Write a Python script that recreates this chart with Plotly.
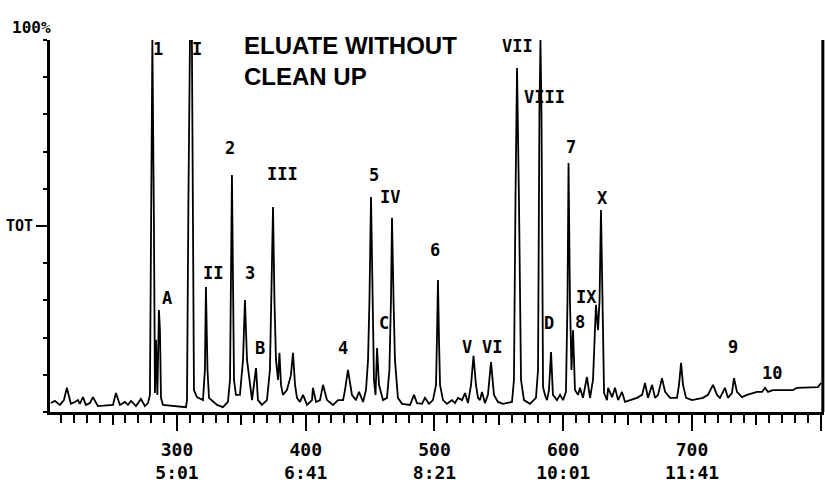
import plotly.graph_objects as go

# Total ion current trace: scan number vs. relative intensity (% of full scale)
scan = [
    202.1, 205.2, 209.1, 212.2, 214.5, 217.6, 220.8, 223.1, 224.6, 227.0,
    229.3, 232.4, 234.7, 238.6, 250.3, 252.6, 255.7, 259.6, 261.9, 264.3,
    268.2, 272.0, 275.1, 277.5, 279.0, 279.8, 280.9, 282.1, 282.9, 283.7,
    284.8, 286.0, 286.8, 287.6, 289.1, 307.0, 307.8, 308.9, 310.1, 311.6,
    312.4, 313.2, 315.5, 320.2, 321.7, 322.5, 323.7, 324.9, 331.1, 335.7,
    339.6, 341.2, 342.7, 344.3, 345.8, 348.9, 351.3, 352.8, 354.4, 356.7,
    358.3, 361.4, 362.9, 366.0, 369.9, 372.2, 373.4, 374.6, 375.7, 376.9,
    378.5, 379.6, 380.8, 382.3, 385.4, 388.5, 390.1, 391.7, 393.2, 395.5,
    397.9, 401.0, 404.9, 405.6, 408.0, 411.1, 413.4, 416.5, 421.2, 425.1,
    429.0, 430.5, 432.8, 435.9, 439.0, 441.4, 444.5, 446.8, 448.4, 449.5,
    450.7, 451.9, 453.0, 454.2, 455.4, 456.9, 460.0, 463.1, 465.0, 466.2,
    467.0, 468.2, 469.3, 471.6, 474.8, 481.0, 484.1, 486.4, 490.3, 492.6,
    495.7, 498.8, 501.2, 501.9, 502.7, 503.5, 504.3, 506.6, 509.7, 513.6,
    515.9, 518.3, 521.4, 523.7, 526.0, 528.4, 530.3, 532.2, 533.8, 535.3,
    536.9, 539.2, 541.5, 543.9, 546.2, 549.3, 553.2, 560.2, 561.7, 562.9,
    564.1, 565.6, 567.2, 569.5, 574.2, 578.8, 580.4, 581.5, 582.3, 583.1,
    584.3, 585.8, 587.4, 588.9, 590.5, 592.0, 595.1, 597.5, 599.8, 602.1,
    603.3, 604.1, 605.2, 606.4, 607.6, 609.1, 611.5, 613.0, 615.3, 618.4,
    620.8, 623.1, 625.4, 627.0, 628.2, 629.3, 630.5, 631.7, 634.0, 634.8,
    637.9, 640.2, 642.6, 645.6, 648.0, 651.8, 657.3, 661.2, 663.5, 665.8,
    669.0, 671.3, 673.6, 676.7, 679.1, 683.0, 688.3, 689.9, 691.5, 693.0,
    695.4, 700.0, 708.5, 712.4, 716.3, 719.4, 721.7, 725.6, 727.9, 731.0,
    732.6, 734.9, 738.8, 742.7, 746.6, 750.5, 754.4, 756.7, 759.0, 762.9,
    778.4, 781.5, 797.8, 800.2,
]
tic = [
    2.4, 3.0, 1.9, 3.2, 6.5, 2.2, 2.7, 3.2, 2.2, 4.0,
    1.9, 2.4, 4.0, 1.6, 1.9, 5.1, 1.9, 2.7, 1.9, 3.0,
    1.6, 3.5, 1.6, 2.4, 4.6, 51.6, 100.0, 51.6, 5.1, 19.4,
    4.6, 27.4, 22.0, 3.8, 1.9, 1.3, 3.2, 57.0, 100.0, 100.0,
    57.0, 5.9, 4.0, 3.2, 11.3, 33.6, 11.3, 3.8, 1.9, 1.3,
    2.7, 8.6, 63.7, 8.6, 4.6, 4.6, 14.0, 30.1, 14.0, 7.3,
    3.2, 11.8, 3.2, 1.9, 3.2, 11.3, 30.1, 55.1, 30.1, 14.0,
    8.6, 15.9, 7.3, 4.6, 5.9, 9.9, 15.9, 7.3, 3.8, 2.7,
    4.6, 1.9, 3.2, 6.5, 2.7, 3.2, 7.3, 3.2, 1.9, 3.2,
    3.2, 5.9, 11.3, 4.6, 3.2, 5.4, 2.7, 5.9, 14.0, 30.1,
    57.8, 30.1, 8.6, 4.6, 17.2, 7.3, 3.2, 3.8, 11.3, 30.1,
    52.2, 30.1, 14.0, 3.8, 2.2, 1.9, 4.6, 2.4, 2.2, 3.8,
    2.2, 3.2, 7.3, 19.4, 35.5, 19.4, 7.3, 3.2, 2.2, 3.2,
    2.4, 3.8, 3.2, 5.1, 2.4, 7.3, 15.1, 7.3, 3.8, 3.2,
    5.4, 2.4, 4.6, 13.4, 4.6, 2.7, 2.2, 2.7, 8.6, 57.0,
    92.5, 57.0, 8.6, 3.2, 2.2, 3.8, 11.3, 80.4, 100.0, 80.4,
    6.7, 4.6, 3.2, 5.9, 16.1, 4.6, 3.2, 4.6, 3.2, 5.4,
    30.1, 66.9, 30.1, 11.3, 22.0, 5.9, 4.6, 6.5, 3.8, 9.4,
    3.8, 8.6, 28.8, 22.0, 30.1, 54.3, 30.1, 5.1, 3.2, 6.5,
    4.0, 6.5, 3.2, 5.4, 2.7, 3.2, 3.8, 4.6, 7.8, 3.8,
    7.3, 3.8, 4.6, 9.1, 5.4, 3.8, 3.8, 7.3, 13.2, 7.3,
    3.8, 3.2, 3.8, 4.6, 7.3, 4.6, 3.8, 6.5, 3.8, 5.1,
    9.1, 5.4, 4.0, 4.6, 5.1, 5.4, 5.4, 6.5, 5.4, 5.9,
    5.9, 6.5, 6.7, 7.8,
]

# Peak names and where each name is written (scan, % level)
peak_names = ["1", "I", "A", "II", "2", "3", "B", "III", "4", "5", "C", "IV",
              "6", "V", "VI", "VII", "VIII", "D", "7", "8", "IX", "X", "9", "10"]
name_scan = [285.2, 315.5, 292.2, 328.0, 341.2, 356.7, 364.5, 381.6, 428.9,
             453.0, 460.8, 465.4, 500.4, 525.2, 544.7, 564.1, 585.8, 588.9,
             606.0, 613.0, 618.4, 630.1, 731.8, 762.1]
name_level = [97.6, 97.6, 30.6, 37.4, 71.0, 37.4, 17.2, 64.0, 17.2, 63.7, 23.9,
              57.8, 43.5, 17.5, 17.5, 98.4, 84.7, 23.9, 71.2, 24.2, 30.9, 57.5,
              17.5, 10.5]

# Scan-number axis labels with the matching retention time
scan_ticks = [300, 400, 500, 600, 700, 800]
time_labels = ["5:01", "6:41", "8:21", "10:01", "11:41", ""]
mid_ticks = [250, 350, 450, 550, 650, 750]

x_range = [201.4, 802.5]
mono = "DejaVu Sans Mono, Liberation Mono, monospace"

tick_text = [f"{s}<br>{t}" if t else "" for s, t in zip(scan_ticks, time_labels)]

fig = go.Figure()
fig.add_trace(go.Scatter(
    x=scan, y=tic, mode="lines",
    line=dict(color="black", width=1.8),
    hoverinfo="skip", showlegend=False,
))
# helper traces that bring the overlay axes into the layout
fig.add_trace(go.Scatter(x=[None], y=[None], xaxis="x2", yaxis="y",
                         showlegend=False, hoverinfo="skip"))
fig.add_trace(go.Scatter(x=[None], y=[None], xaxis="x", yaxis="y2",
                         showlegend=False, hoverinfo="skip"))

for name, sx, lv in zip(peak_names, name_scan, name_level):
    fig.add_annotation(x=sx, y=lv, xref="x", yref="y", text=name,
                       showarrow=False, xanchor="center", yanchor="middle",
                       font=dict(family=mono, size=17, color="black", weight="bold"))

fig.add_annotation(x=350.5, y=94.4, xref="x", yref="y",
                   text="ELUATE WITHOUT<br>CLEAN UP", showarrow=False,
                   xanchor="left", yanchor="middle", align="left",
                   font=dict(family="Liberation Sans, Arial, sans-serif", size=24,
                             color="black", weight="bold"))
fig.add_annotation(x=-0.024, y=1.0, xref="paper", yref="paper", text="100%",
                   showarrow=False, xanchor="center", yanchor="bottom", yshift=1,
                   font=dict(family=mono, size=16, color="black", weight="bold"))

# right-hand end of the recorded window
fig.add_shape(type="line", xref="paper", yref="y", x0=0.9985, x1=0.9985,
              y0=0, y1=101.3, line=dict(color="black", width=3))

fig.update_layout(
    width=825, height=484,
    margin=dict(l=50, r=1, t=40, b=72),
    paper_bgcolor="white", plot_bgcolor="white",
    xaxis=dict(
        range=x_range, showgrid=False, zeroline=False,
        showline=True, linewidth=3, linecolor="black",
        ticks="outside", ticklen=16, tickwidth=2, tickcolor="black",
        tickvals=scan_ticks, ticktext=tick_text,
        tickfont=dict(family=mono, size=18, color="black", weight="bold"),
        ticklabelstandoff=3,
        minor=dict(ticks="outside", dtick=10, tick0=0, ticklen=8,
                   tickwidth=2, tickcolor="black"),
    ),
    xaxis2=dict(
        range=x_range, overlaying="x", anchor="y", side="bottom",
        showgrid=False, zeroline=False, showline=False,
        ticks="outside", ticklen=12, tickwidth=2, tickcolor="black",
        tickvals=mid_ticks, showticklabels=False,
    ),
    yaxis=dict(
        range=[0, 100], showgrid=False, zeroline=False,
        showline=True, linewidth=3, linecolor="black",
        ticks="outside", ticklen=4, tickwidth=2, tickcolor="black",
        dtick=10, tick0=0, showticklabels=False,
    ),
    yaxis2=dict(
        range=[0, 100], overlaying="y", anchor="x", side="left",
        showgrid=False, zeroline=False, showline=False,
        ticks="outside", ticklen=13, tickwidth=2, tickcolor="black",
        tickvals=[50], ticktext=["TOT"],
        tickfont=dict(family=mono, size=15, color="black", weight="bold"),
    ),
)

fig.write_html("out.html")
